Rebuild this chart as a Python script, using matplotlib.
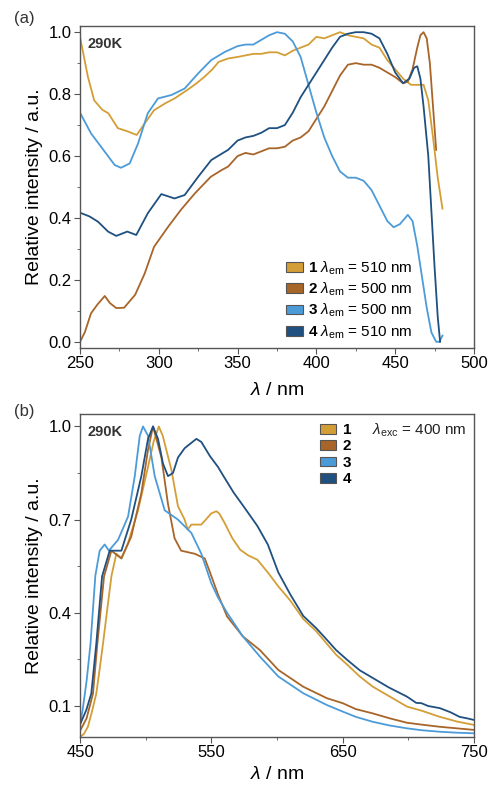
"""
Excitation (a) and emission (b) spectra of compounds 1-4 at 290 K.
"""

import numpy as np
import matplotlib
matplotlib.use('Agg')
import matplotlib.pyplot as plt
from matplotlib.patches import Patch
from matplotlib.ticker import MultipleLocator

plt.rcParams['font.family'] = ['Liberation Sans', 'DejaVu Sans']
plt.rcParams['mathtext.fontset'] = 'custom'
plt.rcParams['mathtext.rm'] = 'Liberation Sans'
plt.rcParams['mathtext.it'] = 'Liberation Sans:italic'
plt.rcParams['mathtext.bf'] = 'Liberation Sans:bold'

colors = ['#D49E36', '#A8652A', '#4C9BD9', '#1F5080']

# ---- panel (a): excitation spectra ----
exc_wl_1 = [250, 255, 259, 264, 268, 274, 280, 286, 291, 297, 304, 310, 318, 324, 329, 334, 338,
            344, 350, 355, 360, 365, 370, 375, 380, 385, 390, 395, 400, 405, 410, 415, 420, 425,
            430, 435, 440, 445, 450, 455, 460, 465, 468, 471, 474, 477, 480]
exc_int_1 = [0.985, 0.856, 0.78, 0.75, 0.738, 0.69, 0.68, 0.668, 0.705, 0.748, 0.77, 0.786, 0.813,
             0.835, 0.856, 0.88, 0.904, 0.915, 0.92, 0.925, 0.93, 0.93, 0.935, 0.935, 0.925,
             0.94, 0.95, 0.96, 0.985, 0.98, 0.99, 1.0, 0.99, 0.985, 0.98, 0.96, 0.95, 0.91,
             0.88, 0.85, 0.83, 0.83, 0.83, 0.78, 0.66, 0.53, 0.43]

exc_wl_2 = [250, 253, 257, 261, 265.7, 269, 273, 278, 285, 291, 297, 306, 314, 323, 333, 340,
            344, 350, 355, 360, 365, 370, 375, 380, 385, 390, 395, 400, 405, 410, 415, 420, 425,
            430, 435, 440, 445, 450, 455, 458, 461, 464, 466, 468, 470, 472, 474, 476]
exc_int_2 = [0.0, 0.03, 0.092, 0.12, 0.148, 0.125, 0.109, 0.11, 0.152, 0.22, 0.307, 0.372,
             0.426, 0.48, 0.533, 0.555, 0.566, 0.60, 0.61, 0.605, 0.615, 0.625, 0.625, 0.63,
             0.65, 0.66, 0.68, 0.72, 0.76, 0.81, 0.86, 0.895, 0.90, 0.895, 0.895, 0.885, 0.87,
             0.855, 0.835, 0.84, 0.88, 0.95, 0.99, 1.0, 0.98, 0.90, 0.76, 0.62]

exc_wl_3 = [250, 257, 265.7, 272, 276, 281.5, 286.8, 293, 299.5, 308, 316.4, 325, 333.3, 341.8,
            350, 355, 360, 365, 370, 375, 380, 385, 390, 395, 400, 405, 410, 415, 420, 425, 430,
            435, 440, 445, 449, 453, 458, 461, 464, 467, 470, 473, 476, 478, 480]
exc_int_3 = [0.74, 0.673, 0.614, 0.571, 0.562, 0.576, 0.64, 0.738, 0.786, 0.797, 0.818, 0.867,
             0.91, 0.936, 0.955, 0.96, 0.96, 0.975, 0.99, 1.0, 0.995, 0.97, 0.92, 0.83, 0.74,
             0.66, 0.60, 0.55, 0.53, 0.53, 0.52, 0.49, 0.44, 0.39, 0.37, 0.38, 0.41, 0.39, 0.31,
             0.21, 0.11, 0.03, 0.0, 0.0, 0.02]

exc_wl_4 = [250, 256, 261.4, 267.8, 273, 280, 285.7, 293, 301.6, 310, 316.4, 325, 333.3, 344,
            350, 355, 360, 365, 370, 375, 380, 385, 390, 395, 400, 405, 410, 415, 420, 425, 430,
            435, 440, 445, 450, 455, 459, 462, 464, 466, 468, 471, 473, 475, 477, 478.5]
exc_int_4 = [0.417, 0.405, 0.388, 0.356, 0.342, 0.356, 0.345, 0.415, 0.477, 0.463, 0.474, 0.533,
             0.587, 0.62, 0.65, 0.66, 0.665, 0.675, 0.69, 0.69, 0.70, 0.74, 0.79, 0.83, 0.87,
             0.91, 0.95, 0.985, 0.995, 1.0, 1.0, 0.995, 0.98, 0.93, 0.87, 0.835, 0.85, 0.885,
             0.89, 0.85, 0.76, 0.60, 0.42, 0.24, 0.08, 0.0]

# ---- panel (b): emission spectra ----
em_wl_1 = [450, 453, 456, 459, 462.4, 465, 467.5, 471, 474, 477.7, 481.5, 486.6, 494.2, 501.8,
           506, 510, 513, 516, 519.6, 524.6, 529.7, 532, 534.8, 542.4, 550, 553.8, 556, 560, 566,
           572, 578, 585, 593, 601, 610, 620, 630, 638, 645, 653, 663, 673, 686, 699, 710, 724,
           737, 750]
em_int_1 = [0.0, 0.01, 0.033, 0.08, 0.14, 0.22, 0.30, 0.42, 0.52, 0.59, 0.575, 0.625, 0.73, 0.87,
            0.95, 1.0, 0.97, 0.92, 0.86, 0.743, 0.70, 0.668, 0.684, 0.684, 0.72, 0.727, 0.72,
            0.69, 0.64, 0.603, 0.585, 0.571, 0.53, 0.485, 0.44, 0.38, 0.34, 0.30, 0.265, 0.235,
            0.195, 0.162, 0.13, 0.098, 0.085, 0.065, 0.05, 0.039]

em_wl_2 = [450, 455, 459.9, 463.2, 468.3, 473.9, 481.5, 489, 496.7, 501.8, 505.6, 512, 517, 522,
           527, 537.4, 545, 549, 555, 562, 574, 587, 601, 620, 638, 650, 660, 673, 686, 699, 710,
           724, 737, 750]
em_int_2 = [0.02, 0.06, 0.14, 0.30, 0.517, 0.60, 0.575, 0.645, 0.785, 0.925, 1.0, 0.90, 0.75,
            0.64, 0.60, 0.59, 0.575, 0.53, 0.46, 0.388, 0.324, 0.28, 0.216, 0.162, 0.125, 0.109,
            0.09, 0.076, 0.06, 0.046, 0.04, 0.033, 0.028, 0.023]

em_wl_3 = [450, 452, 455, 458, 461.7, 465, 468.8, 472, 479, 486.6, 491.7, 495.5, 498, 501.8,
           506.9, 514.5, 524.6, 534.8, 542.4, 550, 555, 562, 574, 587, 601, 620, 638, 650, 660,
           673, 686, 699, 710, 724, 737, 750]
em_int_3 = [0.04, 0.087, 0.18, 0.30, 0.52, 0.60, 0.62, 0.60, 0.635, 0.71, 0.84, 0.97, 1.0, 0.97,
            0.84, 0.73, 0.70, 0.657, 0.59, 0.495, 0.45, 0.40, 0.324, 0.259, 0.195, 0.141, 0.103,
            0.082, 0.065, 0.049, 0.037, 0.028, 0.022, 0.017, 0.014, 0.012]

em_wl_4 = [450, 454.8, 458.6, 462.4, 466.8, 472.6, 481.5, 489, 496.7, 501.8, 505.6, 509.4, 513.2,
           517, 520.8, 524.6, 529.7, 538.6, 542.4, 549, 555, 560, 567, 575, 585, 593, 601, 610,
           620, 630, 638, 645, 653, 663, 673, 685, 699, 706, 710, 715, 724, 732, 739, 745, 750]
em_int_4 = [0.04, 0.087, 0.14, 0.30, 0.517, 0.60, 0.60, 0.70, 0.84, 0.96, 1.0, 0.96, 0.88, 0.84,
            0.85, 0.90, 0.93, 0.96, 0.95, 0.904, 0.87, 0.835, 0.787, 0.74, 0.68, 0.62, 0.53,
            0.46, 0.39, 0.35, 0.313, 0.28, 0.25, 0.215, 0.19, 0.16, 0.13, 0.11, 0.109, 0.10,
            0.093, 0.08, 0.065, 0.06, 0.055]

exc_labels = [r'$\mathbf{1}$ $\mathit{\lambda}_{\mathrm{em}}$ = 510 nm',
              r'$\mathbf{2}$ $\mathit{\lambda}_{\mathrm{em}}$ = 500 nm',
              r'$\mathbf{3}$ $\mathit{\lambda}_{\mathrm{em}}$ = 500 nm',
              r'$\mathbf{4}$ $\mathit{\lambda}_{\mathrm{em}}$ = 510 nm']
em_labels = [r'$\mathbf{1}$', r'$\mathbf{2}$', r'$\mathbf{3}$', r'$\mathbf{4}$']

exc_data = [(exc_wl_1, exc_int_1), (exc_wl_2, exc_int_2), (exc_wl_3, exc_int_3), (exc_wl_4, exc_int_4)]
em_data = [(em_wl_1, em_int_1), (em_wl_2, em_int_2), (em_wl_3, em_int_3), (em_wl_4, em_int_4)]

fig = plt.figure(figsize=(4.89, 7.85), dpi=100)
ax_a = fig.add_axes([0.1636, 0.5567, 0.8057, 0.4102])
ax_b = fig.add_axes([0.1636, 0.0611, 0.8057, 0.4115])


def style_axes(ax):
    for sp in ax.spines.values():
        sp.set_color('#555555')
        sp.set_linewidth(1.0)
    ax.tick_params(which='both', direction='out', color='#555555', top=False, right=False)
    ax.tick_params(which='major', length=4, labelsize=12, pad=2)
    ax.tick_params(which='minor', length=2.5)


for (wl, inten), c in zip(exc_data, colors):
    ax_a.plot(wl, inten, color=c, linewidth=1.3)
ax_a.set_xlim(250, 500)
ax_a.set_ylim(-0.02, 1.02)
ax_a.xaxis.set_major_locator(MultipleLocator(50))
ax_a.xaxis.set_minor_locator(MultipleLocator(25))
ax_a.set_yticks([0.0, 0.2, 0.4, 0.6, 0.8, 1.0])
ax_a.set_yticklabels(['0.0', '0.2', '0.4', '0.6', '0.8', '1.0'])
ax_a.yaxis.set_minor_locator(MultipleLocator(0.1))
style_axes(ax_a)
ax_a.set_xlabel(r'$\mathit{\lambda}$ / nm', fontsize=14, labelpad=8)
ax_a.set_ylabel('Relative intensity / a.u.', fontsize=14, labelpad=4)
ax_a.text(0.02, 0.966, '290K', transform=ax_a.transAxes, fontsize=10.5, fontweight='bold',
          color='#333333', va='top')
handles_a = [Patch(facecolor=c, edgecolor='#555555', linewidth=0.8) for c in colors]
ax_a.legend(handles_a, exc_labels, loc='lower left', bbox_to_anchor=(0.495, -0.01), frameon=False,
            fontsize=11, handlelength=1.1, handleheight=0.6, handletextpad=0.35, labelspacing=0.25,
            borderaxespad=0.3)

for (wl, inten), c in zip(em_data, colors):
    ax_b.plot(wl, inten, color=c, linewidth=1.3)
ax_b.set_xlim(450, 750)
ax_b.set_ylim(0.0, 1.04)
ax_b.set_xticks([450, 550, 650, 750])
ax_b.xaxis.set_minor_locator(MultipleLocator(50))
ax_b.set_yticks([0.1, 0.4, 0.7, 1.0])
ax_b.set_yticks([0.25, 0.55, 0.85], minor=True)
ax_b.set_yticklabels(['0.1', '0.4', '0.7', '1.0'])
style_axes(ax_b)
ax_b.set_xlabel(r'$\mathit{\lambda}$ / nm', fontsize=14, labelpad=4)
ax_b.set_ylabel('Relative intensity / a.u.', fontsize=14, labelpad=4)
ax_b.text(0.02, 0.966, '290K', transform=ax_b.transAxes, fontsize=10.5, fontweight='bold',
          color='#333333', va='top')
ax_b.text(0.98, 0.975, r'$\mathit{\lambda}_{\mathrm{exc}}$ = 400 nm', transform=ax_b.transAxes,
          fontsize=11, ha='right', va='top', color='#222222')
handles_b = [Patch(facecolor=c, edgecolor='#555555', linewidth=0.8) for c in colors]
ax_b.legend(handles_b, em_labels, loc='upper left', bbox_to_anchor=(0.585, 1.0), frameon=False,
            fontsize=11, handlelength=1.1, handleheight=0.6, handletextpad=0.35, labelspacing=0.15,
            borderaxespad=0.2)

fig.text(0.028, 0.977, '(a)', fontsize=12, va='center', color='#333333')
fig.text(0.028, 0.476, '(b)', fontsize=12, va='center', color='#333333')

fig.savefig('out.png', dpi=100)
